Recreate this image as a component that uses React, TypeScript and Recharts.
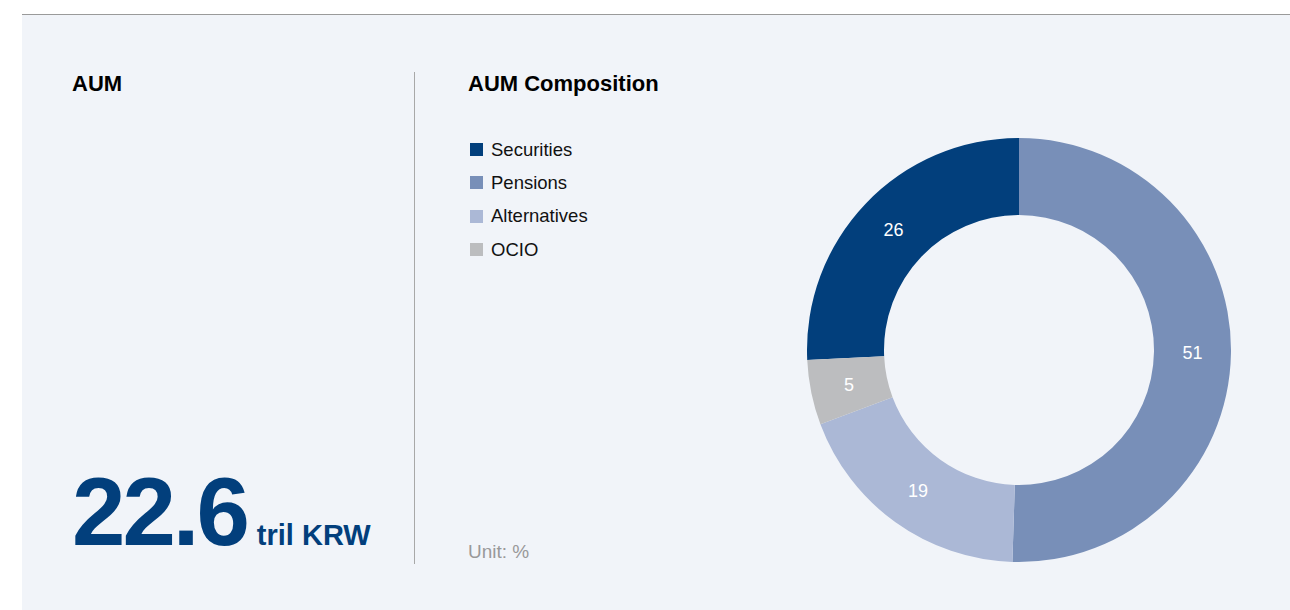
import React from "react";
import { PieChart, Pie, Cell } from "recharts";

// AUM composition, unit: %
const categories = ["Securities", "Pensions", "Alternatives", "OCIO"];
const shares = [26, 51, 19, 5];
const colors = ["#023F7C", "#788FB8", "#ABB8D6", "#BCBDBF"];

const totalAum = "22.6";
const totalUnit = "tril KRW";

const FONT = '"Liberation Sans", Arial, Helvetica, sans-serif';
const RAD = Math.PI / 180;

const data = categories.map((name, i) => ({ name, value: shares[i] }));

// Securities sits just left of 12 o'clock, so the first slice starts
// at its own width counter-clockwise from the top.
const total = shares.reduce((a, b) => a + b, 0);
const startAngle = 90 + (360 * shares[0]) / total;

function SliceLabel(props: any) {
  const { cx, cy, midAngle, innerRadius, outerRadius, value } = props;
  const r = (innerRadius + outerRadius) / 2;
  const x = cx + r * Math.cos(-midAngle * RAD);
  const y = cy + r * Math.sin(-midAngle * RAD);
  return (
    <text
      x={x}
      y={y}
      fill="#ffffff"
      fontSize={18}
      fontFamily={FONT}
      textAnchor="middle"
      dominantBaseline="central"
    >
      {value}
    </text>
  );
}

function LegendList() {
  return (
    <div style={{ fontFamily: FONT }}>
      {categories.map((name, i) => (
        <div
          key={name}
          style={{ display: "flex", alignItems: "center", height: 33.3 }}
        >
          <span
            style={{
              width: 13,
              height: 13,
              background: colors[i],
              display: "inline-block",
              marginRight: 8,
            }}
          />
          <span style={{ fontSize: 18.5, color: "#111" }}>{name}</span>
        </div>
      ))}
    </div>
  );
}

export default function App() {
  return (
    <div
      style={{
        position: "absolute",
        left: 0,
        top: 0,
        width: 1290,
        height: 610,
        background: "#fff",
        fontFamily: FONT,
      }}
    >
      <div
        style={{
          position: "absolute",
          left: 22,
          top: 14,
          width: 1268,
          height: 596,
          background: "#F1F4F9",
          borderTop: "1px solid #9a9a9a",
        }}
      />

      <div
        style={{
          position: "absolute",
          left: 72,
          top: 73,
          fontSize: 22,
          fontWeight: "bold",
          lineHeight: "22px",
          color: "#000",
        }}
      >
        AUM
      </div>

      <div
        style={{
          position: "absolute",
          left: 72,
          top: 452,
          height: 120,
          display: "flex",
          alignItems: "baseline",
          color: "#023F7C",
          fontWeight: "bold",
        }}
      >
        <span style={{ fontSize: 96, lineHeight: "120px", letterSpacing: -3 }}>
          {totalAum}
        </span>
        <span style={{ fontSize: 29, marginLeft: 10 }}>{totalUnit}</span>
      </div>

      <div
        style={{
          position: "absolute",
          left: 414,
          top: 72,
          width: 1,
          height: 492,
          background: "#a8a8a8",
        }}
      />

      <div
        style={{
          position: "absolute",
          left: 468,
          top: 73,
          fontSize: 22,
          fontWeight: "bold",
          lineHeight: "22px",
          color: "#000",
        }}
      >
        AUM Composition
      </div>

      <div style={{ position: "absolute", left: 470, top: 133 }}>
        <LegendList />
      </div>

      <div
        style={{
          position: "absolute",
          left: 468,
          top: 542,
          fontSize: 19,
          lineHeight: "20px",
          color: "#999",
        }}
      >
        Unit: %
      </div>

      <div style={{ position: "absolute", left: 769, top: 100 }}>
        <PieChart
          width={500}
          height={500}
          margin={{ top: 0, right: 0, bottom: 0, left: 0 }}
        >
          <Pie
            data={data}
            dataKey="value"
            nameKey="name"
            cx={250}
            cy={250}
            innerRadius={135}
            outerRadius={212}
            startAngle={startAngle}
            endAngle={startAngle - 360}
            stroke="none"
            label={SliceLabel}
            labelLine={false}
            isAnimationActive={false}
          >
            {data.map((d, i) => (
              <Cell key={d.name} fill={colors[i]} />
            ))}
          </Pie>
        </PieChart>
      </div>
    </div>
  );
}
